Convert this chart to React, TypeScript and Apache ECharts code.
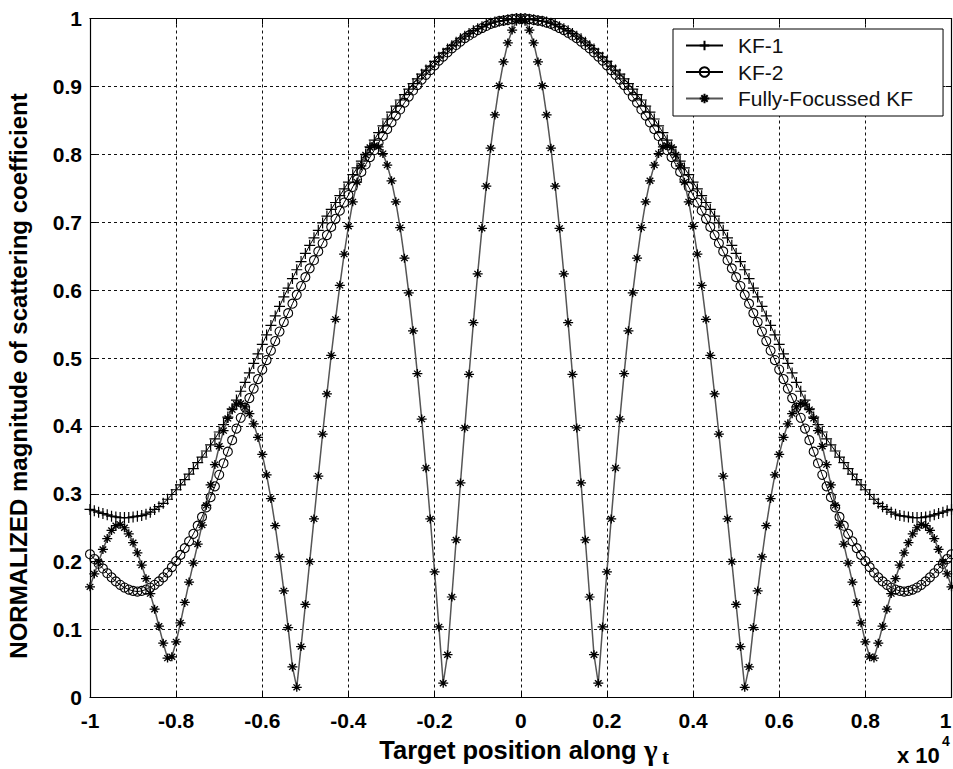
import React, { useEffect, useRef } from "react";
import * as echarts from "echarts";

const X = [
  -1, -0.99, -0.98, -0.97, -0.96, -0.95, -0.94, -0.93, -0.92, -0.91,
  -0.9, -0.89, -0.88, -0.87, -0.86, -0.85, -0.84, -0.83, -0.82, -0.81,
  -0.8, -0.79, -0.78, -0.77, -0.76, -0.75, -0.74, -0.73, -0.72, -0.71,
  -0.7, -0.69, -0.68, -0.67, -0.66, -0.65, -0.64, -0.63, -0.62, -0.61,
  -0.6, -0.59, -0.58, -0.57, -0.56, -0.55, -0.54, -0.53, -0.52, -0.51,
  -0.5, -0.49, -0.48, -0.47, -0.46, -0.45, -0.44, -0.43, -0.42, -0.41,
  -0.4, -0.39, -0.38, -0.37, -0.36, -0.35, -0.34, -0.33, -0.32, -0.31,
  -0.3, -0.29, -0.28, -0.27, -0.26, -0.25, -0.24, -0.23, -0.22, -0.21,
  -0.2, -0.19, -0.18, -0.17, -0.16, -0.15, -0.14, -0.13, -0.12, -0.11,
  -0.1, -0.09, -0.08, -0.07, -0.06, -0.05, -0.04, -0.03, -0.02, -0.01,
  0,
  0.01, 0.02, 0.03, 0.04, 0.05, 0.06, 0.07, 0.08, 0.09, 0.1,
  0.11, 0.12, 0.13, 0.14, 0.15, 0.16, 0.17, 0.18, 0.19, 0.2,
  0.21, 0.22, 0.23, 0.24, 0.25, 0.26, 0.27, 0.28, 0.29, 0.3,
  0.31, 0.32, 0.33, 0.34, 0.35, 0.36, 0.37, 0.38, 0.39, 0.4,
  0.41, 0.42, 0.43, 0.44, 0.45, 0.46, 0.47, 0.48, 0.49, 0.5,
  0.51, 0.52, 0.53, 0.54, 0.55, 0.56, 0.57, 0.58, 0.59, 0.6,
  0.61, 0.62, 0.63, 0.64, 0.65, 0.66, 0.67, 0.68, 0.69, 0.7,
  0.71, 0.72, 0.73, 0.74, 0.75, 0.76, 0.77, 0.78, 0.79, 0.8,
  0.81, 0.82, 0.83, 0.84, 0.85, 0.86, 0.87, 0.88, 0.89, 0.9,
  0.91, 0.92, 0.93, 0.94, 0.95, 0.96, 0.97, 0.98, 0.99, 1,
];

const KF1 = [
  0.277, 0.275, 0.273, 0.271, 0.269, 0.267, 0.266, 0.265, 0.265, 0.265,
  0.266, 0.267, 0.268, 0.270, 0.273, 0.277, 0.281, 0.286, 0.292, 0.299,
  0.306, 0.313, 0.321, 0.329, 0.337, 0.346, 0.354, 0.363, 0.372, 0.381,
  0.391, 0.402, 0.413, 0.425, 0.438, 0.451, 0.464, 0.478, 0.492, 0.506,
  0.520, 0.534, 0.548, 0.562, 0.576, 0.590, 0.603, 0.617, 0.630, 0.642,
  0.654, 0.666, 0.677, 0.688, 0.699, 0.709, 0.719, 0.729, 0.739, 0.749,
  0.759, 0.770, 0.780, 0.790, 0.800, 0.811, 0.821, 0.832, 0.842, 0.852,
  0.862, 0.871, 0.880, 0.888, 0.896, 0.904, 0.911, 0.918, 0.924, 0.930,
  0.937, 0.943, 0.949, 0.955, 0.960, 0.965, 0.970, 0.974, 0.978, 0.982,
  0.985, 0.988, 0.991, 0.993, 0.995, 0.996, 0.997, 0.998, 0.999, 1.000,
  1.000,
  1.000, 0.999, 0.998, 0.997, 0.996, 0.995, 0.993, 0.991, 0.988, 0.985,
  0.982, 0.978, 0.974, 0.970, 0.965, 0.960, 0.955, 0.949, 0.943, 0.937,
  0.930, 0.924, 0.918, 0.911, 0.904, 0.896, 0.888, 0.880, 0.871, 0.862,
  0.852, 0.842, 0.832, 0.821, 0.811, 0.800, 0.790, 0.780, 0.770, 0.759,
  0.749, 0.739, 0.729, 0.719, 0.709, 0.699, 0.688, 0.677, 0.666, 0.654,
  0.642, 0.630, 0.617, 0.603, 0.590, 0.576, 0.562, 0.548, 0.534, 0.520,
  0.506, 0.492, 0.478, 0.464, 0.451, 0.438, 0.425, 0.413, 0.402, 0.391,
  0.381, 0.372, 0.363, 0.354, 0.346, 0.337, 0.329, 0.321, 0.313, 0.306,
  0.299, 0.292, 0.286, 0.281, 0.277, 0.273, 0.270, 0.268, 0.267, 0.266,
  0.265, 0.265, 0.265, 0.266, 0.267, 0.269, 0.271, 0.273, 0.275, 0.277,
];

const KF2 = [
  0.211, 0.204, 0.197, 0.190, 0.183, 0.177, 0.171, 0.166, 0.162, 0.159,
  0.157, 0.156, 0.157, 0.159, 0.162, 0.166, 0.171, 0.177, 0.184, 0.192,
  0.201, 0.210, 0.220, 0.230, 0.241, 0.253, 0.266, 0.280, 0.295, 0.311,
  0.328, 0.345, 0.362, 0.379, 0.396, 0.412, 0.427, 0.441, 0.455, 0.469,
  0.483, 0.497, 0.511, 0.525, 0.539, 0.553, 0.566, 0.580, 0.593, 0.606,
  0.619, 0.632, 0.644, 0.657, 0.669, 0.681, 0.693, 0.705, 0.717, 0.729,
  0.740, 0.752, 0.763, 0.774, 0.785, 0.796, 0.806, 0.817, 0.827, 0.837,
  0.847, 0.857, 0.866, 0.876, 0.885, 0.894, 0.902, 0.910, 0.917, 0.924,
  0.931, 0.938, 0.944, 0.950, 0.956, 0.961, 0.966, 0.971, 0.975, 0.979,
  0.983, 0.986, 0.989, 0.992, 0.994, 0.996, 0.997, 0.998, 0.999, 1.000,
  1.000,
  1.000, 0.999, 0.998, 0.997, 0.996, 0.994, 0.992, 0.989, 0.986, 0.983,
  0.979, 0.975, 0.971, 0.966, 0.961, 0.956, 0.950, 0.944, 0.938, 0.931,
  0.924, 0.917, 0.910, 0.902, 0.894, 0.885, 0.876, 0.866, 0.857, 0.847,
  0.837, 0.827, 0.817, 0.806, 0.796, 0.785, 0.774, 0.763, 0.752, 0.740,
  0.729, 0.717, 0.705, 0.693, 0.681, 0.669, 0.657, 0.644, 0.632, 0.619,
  0.606, 0.593, 0.580, 0.566, 0.553, 0.539, 0.525, 0.511, 0.497, 0.483,
  0.469, 0.455, 0.441, 0.427, 0.412, 0.396, 0.379, 0.362, 0.345, 0.328,
  0.311, 0.295, 0.280, 0.266, 0.253, 0.241, 0.230, 0.220, 0.210, 0.201,
  0.192, 0.184, 0.177, 0.171, 0.166, 0.162, 0.159, 0.157, 0.156, 0.157,
  0.159, 0.162, 0.166, 0.171, 0.177, 0.183, 0.190, 0.197, 0.204, 0.211,
];

const FF = [
  0.163, 0.182, 0.200, 0.218, 0.234, 0.246, 0.253, 0.255, 0.250, 0.241,
  0.228, 0.213, 0.195, 0.175, 0.153, 0.130, 0.105, 0.080, 0.058, 0.060,
  0.082, 0.110, 0.140, 0.170, 0.198, 0.226, 0.254, 0.283, 0.313, 0.343,
  0.370, 0.393, 0.411, 0.424, 0.432, 0.433, 0.428, 0.418, 0.403, 0.383,
  0.358, 0.328, 0.293, 0.253, 0.207, 0.157, 0.103, 0.045, 0.015, 0.075,
  0.137, 0.200, 0.263, 0.326, 0.388, 0.447, 0.504, 0.557, 0.607, 0.653,
  0.694, 0.730, 0.759, 0.783, 0.799, 0.810, 0.813, 0.811, 0.801, 0.784,
  0.761, 0.730, 0.692, 0.647, 0.596, 0.540, 0.477, 0.410, 0.338, 0.263,
  0.185, 0.104, 0.021, 0.063, 0.148, 0.232, 0.316, 0.397, 0.476, 0.552,
  0.624, 0.691, 0.753, 0.809, 0.858, 0.901, 0.936, 0.964, 0.983, 0.996,
  1.000,
  0.996, 0.983, 0.964, 0.936, 0.901, 0.858, 0.809, 0.753, 0.691, 0.624,
  0.552, 0.476, 0.397, 0.316, 0.232, 0.148, 0.063, 0.021, 0.104, 0.185,
  0.263, 0.338, 0.410, 0.477, 0.540, 0.596, 0.647, 0.692, 0.730, 0.761,
  0.784, 0.801, 0.811, 0.813, 0.810, 0.799, 0.783, 0.759, 0.730, 0.694,
  0.653, 0.607, 0.557, 0.504, 0.447, 0.388, 0.326, 0.263, 0.200, 0.137,
  0.075, 0.015, 0.045, 0.103, 0.157, 0.207, 0.253, 0.293, 0.328, 0.358,
  0.383, 0.403, 0.418, 0.428, 0.433, 0.432, 0.424, 0.411, 0.393, 0.370,
  0.343, 0.313, 0.283, 0.254, 0.226, 0.198, 0.170, 0.140, 0.110, 0.082,
  0.060, 0.058, 0.080, 0.105, 0.130, 0.153, 0.175, 0.195, 0.213, 0.228,
  0.241, 0.250, 0.255, 0.253, 0.246, 0.234, 0.218, 0.200, 0.182, 0.163,
];

const SERIES_NAMES = ["KF-1", "KF-2", "Fully-Focussed KF"];
const Y_TITLE = "NORMALIZED magnitude of scattering coefficient";
const X_TITLE = "Target position along";

const SANS = '"Liberation Sans", Arial, Helvetica, sans-serif';
const SERIF = '"Liberation Serif", "Times New Roman", serif';

const PLUS = "path://M5,0L5,10M0,5L10,5";
const STAR = "path://M5,0L5,10M0,5L10,5M1.7,1.7L8.3,8.3M8.3,1.7L1.7,8.3";

function pairs(ys: number[]) {
  return X.map((x, i) => [x, ys[i]]);
}

export default function App() {
  const ref = useRef<HTMLDivElement>(null);

  useEffect(() => {
    if (!ref.current) return;
    const chart = echarts.init(ref.current, null, { renderer: "svg" });

    const axisLine = { show: true, onZero: false, lineStyle: { color: "#000", width: 1.2 } };
    const tick = { show: true, inside: true, length: 6, lineStyle: { color: "#000", width: 1 } };
    const grid = { show: true, lineStyle: { color: "#111", width: 1, type: [3, 3] as any } };
    const labelStyle = {
      color: "#000",
      fontSize: 21,
      fontWeight: "bold" as const,
      fontFamily: SANS,
    };

    chart.setOption({
      animation: false,
      backgroundColor: "#fff",
      grid: {
        left: 90,
        right: 1.5,
        top: 18.5,
        bottom: 71.5,
        containLabel: false,
        outerBoundsMode: "none",
      },
      xAxis: [
        {
          type: "value",
          min: -1,
          max: 1,
          interval: 0.2,
          position: "bottom",
          axisLine,
          axisTick: tick,
          splitLine: grid,
          axisLabel: {
            ...labelStyle,
            margin: 12,
            showMinLabel: true,
            showMaxLabel: true,
            hideOverlap: false,
            alignMaxLabel: "right",
          },
        },
        {
          type: "value",
          min: -1,
          max: 1,
          interval: 0.2,
          position: "top",
          axisLine,
          axisTick: tick,
          splitLine: { show: false },
          axisLabel: { show: false },
        },
      ],
      yAxis: [
        {
          type: "value",
          min: 0,
          max: 1,
          interval: 0.1,
          position: "left",
          axisLine,
          axisTick: tick,
          splitLine: grid,
          axisLabel: { ...labelStyle, margin: 8, showMinLabel: true, showMaxLabel: true },
        },
        {
          type: "value",
          min: 0,
          max: 1,
          interval: 0.1,
          position: "right",
          axisLine,
          axisTick: tick,
          splitLine: { show: false },
          axisLabel: { show: false },
        },
      ],
      legend: {
        data: SERIES_NAMES,
        orient: "vertical",
        left: 673,
        top: 29,
        padding: [6, 30, 7, 12],
        itemGap: 5.5,
        itemWidth: 37,
        itemHeight: 12,
        backgroundColor: "#fff",
        borderColor: "#000",
        borderWidth: 1,
        borderRadius: 0,
        selectedMode: false,
        textStyle: { fontSize: 21, fontFamily: SANS, color: "#111", padding: [0, 0, 0, 10] },
      },
      series: [
        {
          type: "line",
          name: SERIES_NAMES[0],
          data: pairs(KF1),
          symbol: PLUS,
          symbolSize: 11,
          showAllSymbol: true,
          lineStyle: { color: "#000", width: 1 },
          itemStyle: { color: "none", borderColor: "#000", borderWidth: 1.2 },
          z: 2,
        },
        {
          type: "line",
          name: SERIES_NAMES[1],
          data: pairs(KF2),
          symbol: "circle",
          symbolSize: 9,
          showAllSymbol: true,
          lineStyle: { color: "#000", width: 1 },
          itemStyle: { color: "none", borderColor: "#000", borderWidth: 1.1 },
          z: 3,
        },
        {
          type: "line",
          name: SERIES_NAMES[2],
          data: pairs(FF),
          symbol: STAR,
          symbolSize: [10, 9],
          showAllSymbol: true,
          lineStyle: { color: "#555", width: 1.5 },
          itemStyle: { color: "none", borderColor: "#000", borderWidth: 1.3 },
          z: 4,
        },
      ],
      graphic: [
        {
          type: "text",
          x: 18,
          y: 376,
          rotation: Math.PI / 2,
          style: {
            text: Y_TITLE,
            font: `bold 24px ${SANS}`,
            fill: "#000",
            align: "center",
            verticalAlign: "middle",
          },
        },
        {
          type: "text",
          x: 508,
          y: 750,
          style: {
            text: X_TITLE,
            font: `bold 25.5px ${SANS}`,
            fill: "#000",
            align: "center",
            verticalAlign: "middle",
          },
        },
        {
          type: "text",
          x: 644,
          y: 750,
          style: { text: "γ", font: `bold 29px ${SERIF}`, fill: "#000", align: "left", verticalAlign: "middle" },
        },
        {
          type: "text",
          x: 662,
          y: 757,
          style: { text: "t", font: `bold 21px ${SERIF}`, fill: "#000", align: "left", verticalAlign: "middle" },
        },
        {
          type: "text",
          x: 897,
          y: 755,
          style: { text: "x 10", font: `bold 22px ${SANS}`, fill: "#000", align: "left", verticalAlign: "middle" },
        },
        {
          type: "text",
          x: 942,
          y: 741,
          style: { text: "4", font: `bold 14px ${SANS}`, fill: "#000", align: "left", verticalAlign: "middle" },
        },
      ],
    });

    return () => chart.dispose();
  }, []);

  return (
    <div
      ref={ref}
      style={{ position: "absolute", left: 0, top: 0, width: 953, height: 769, background: "#fff" }}
    />
  );
}
